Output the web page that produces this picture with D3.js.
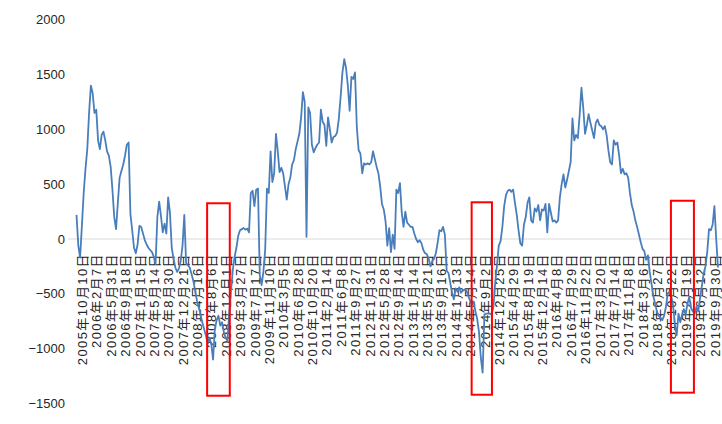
<!DOCTYPE html>
<html>
<head>
<meta charset="utf-8">
<script src="https://cdn.jsdelivr.net/npm/d3@7"></script>
<style>
  html, body { margin: 0; padding: 0; background: #fff; }
  svg { display: block; }
</style>
</head>
<body>
<svg id="chart" width="722" height="424"></svg>
<script>
// Date labels shown on the category axis, one every 8 samples
const tickLabels = [
  "2005年10月10日", "2006年2月7日", "2006年5月31日", "2006年9月18日",
  "2007年1月15日", "2007年5月14日", "2007年8月30日", "2007年12月21日",
  "2008年4月16日", "2008年8月6日", "2008年12月1日", "2009年3月27日",
  "2009年7月17日", "2009年11月10日", "2010年3月5日", "2010年6月28日",
  "2010年10月20日", "2011年2月14日", "2011年6月8日", "2011年9月27日",
  "2012年1月31日", "2012年5月28日", "2012年9月14日", "2013年1月14日",
  "2013年5月21日", "2013年9月16日", "2014年1月13日", "2014年5月14日",
  "2014年9月2日", "2014年12月25日", "2015年4月29日", "2015年8月19日",
  "2015年12月14日", "2016年4月8日", "2016年7月29日", "2016年11月22日",
  "2017年3月20日", "2017年7月14日", "2017年11月8日", "2018年3月6日",
  "2018年6月27日", "2018年10月22日", "2019年2月19日", "2019年6月12日",
  "2019年9月30日"
];

// Series values, evenly spaced samples
const values = [
  220, -60, -170, 120, 420, 640, 820, 1150, 1400, 1330,
  1150, 1180, 900, 820, 950, 980, 900, 800, 760, 660,
  450, 200, 90, 330, 560, 620, 680, 760, 860, 880,
  230, 80, -80, -130, -50, 120, 110, 50, -10, -50,
  -80, -100, -120, -160, -230, 200, 340, 210, 60, 140,
  50, 380, 240, -80, -180, -260, -300, -270, -200, -60,
  220, -220, -240, -260, -320, -380, -470, -560, -620, -690,
  -760, -820, -880, -950, -900, -960, -1100, -820, -740, -700,
  -790, -760, -850, -900, -930, -680, -470, -280, -160, -80,
  30, 80, 90, 100, 85, 95, 60, 420, 440, 300,
  450, 460, -330, -420, -300, -100, 460, 420, 800, 520,
  600, 960, 800, 610, 650, 600, 480, 360, 500, 560,
  680, 720, 820, 890, 960, 1110, 1340, 1250, 20, 1200,
  1150, 860, 790, 830, 860, 880, 1180, 1070, 1040, 850,
  1110, 1000, 880, 930, 940, 970, 1100, 1300, 1520, 1640,
  1560, 1400, 1170, 1480, 1460, 1520, 1020, 810, 780, 600,
  690, 680, 690, 680, 700, 800, 730, 660, 600, 480,
  320, 270, 160, -60, 100, -120, 40, -90, 450, 420,
  510, 240, 110, 250, 150, 130, 110, 110, 50, 0,
  -30, -10, -40, -100, -130, -140, -180, -250, -200, -180,
  -130, -30, 80, 70, 110, 40, -290, -310, -400, -490,
  -550, -450, -480, -440, -490, -470, -460, -470, -520, -560,
  -600, -570, -660, -730, -850, -1080, -1220, -690, -680, -680,
  -680, -690, -620, -400, -240, -60, -20, 110, 300, 400,
  440, 450, 430, 450, 330, 220, 80, -40, -60, 130,
  200, 330, 380, 170, 150, 280, 250, 310, 170, 270,
  260, 320, 60, 320, 240, 160, 170, 150, 170, 380,
  500, 590, 470, 540, 620, 700, 1100, 900, 950, 920,
  1130, 1380, 1200, 960, 1040, 1140, 1060, 990, 920, 1060,
  1090, 1040, 1030, 1000, 1030, 950, 810, 700, 680, 900,
  860, 880, 760, 600, 640, 590, 600, 560, 420, 310,
  250, 170, 110, 40, -30, -90, -110, -190, -150, -300,
  -410, -520, -590, -660, -700, -720, -740, -700, -620, -500,
  -480, -520, -610, -780, -880, -680, -760, -690, -640, -690,
  -590, -530, -630, -660, -680, -620, -660, -540, -430, -320,
  -250, -120, 90, 80, 130, 300, 0, -260
];

const yTicks = [-1500, -1000, -500, 0, 500, 1000, 1500, 2000];
const labelEvery = 8;
const labelOffset = 3;

// Highlighted periods (sample index span, value span)
const highlightFrom = [72.7, 219.9, 330.8];
const highlightTo   = [85.3, 231.2, 343.6];
const highlightHigh = [326, 335, 349];
const highlightLow  = [-1430, -1421, -1402];

const svg = d3.select("#chart");

const x = d3.scaleLinear()
  .domain([0, values.length - 1])
  .range([76.5, 718]);

const y = d3.scaleLinear()
  .domain([-1500, 2000])
  .range([403.4, 19.8]);

// zero reference line
svg.append("line")
  .attr("x1", 68).attr("x2", 722)
  .attr("y1", y(0)).attr("y2", y(0))
  .attr("stroke", "#d9d9d9")
  .attr("stroke-width", 1);

// value axis
const yAxis = d3.axisLeft(y).tickValues(yTicks).tickSize(0).tickPadding(0)
  .tickFormat(d => d < 0 ? "\u2212" + Math.abs(d) : String(d));
const gy = svg.append("g").attr("transform", "translate(65,0)").call(yAxis);
gy.select(".domain").remove();
gy.selectAll("text")
  .attr("font-family", "'Liberation Sans', Arial, sans-serif")
  .attr("font-size", 13)
  .attr("fill", "#262626");

// category axis, labels rotated and hung below the zero line
const tickIdx = tickLabels.map((_, k) => labelOffset + k * labelEvery);
const xAxis = d3.axisBottom(x).tickValues(tickIdx).tickSize(0)
  .tickFormat((d, k) => tickLabels[k]);
const gx = svg.append("g").attr("transform", `translate(0,${y(0)})`).call(xAxis);
gx.select(".domain").remove();
gx.selectAll("text")
  .attr("transform", "rotate(-90)")
  .attr("x", -14)
  .attr("y", 0)
  .attr("dy", "0.36em")
  .attr("text-anchor", "end")
  .attr("font-family", "'Liberation Sans', Arial, 'Noto Sans CJK SC', sans-serif")
  .attr("font-size", 13)
  .attr("letter-spacing", "1.4px")
  .attr("fill", "#262626");

// series line
const line = d3.line()
  .x((d, i) => x(i))
  .y(d => y(d));

svg.append("path")
  .datum(values)
  .attr("fill", "none")
  .attr("stroke", "#4a7ebb")
  .attr("stroke-width", 1.8)
  .attr("stroke-linejoin", "round")
  .attr("d", line);

// highlight boxes
svg.append("g").selectAll("rect")
  .data(highlightFrom.map((f, k) => ({ f, t: highlightTo[k], hi: highlightHigh[k], lo: highlightLow[k] })))
  .join("rect")
  .attr("x", d => x(d.f))
  .attr("y", d => y(d.hi))
  .attr("width", d => x(d.t) - x(d.f))
  .attr("height", d => y(d.lo) - y(d.hi))
  .attr("fill", "none")
  .attr("stroke", "#ff0000")
  .attr("stroke-width", 2);
</script>
</body>
</html>
